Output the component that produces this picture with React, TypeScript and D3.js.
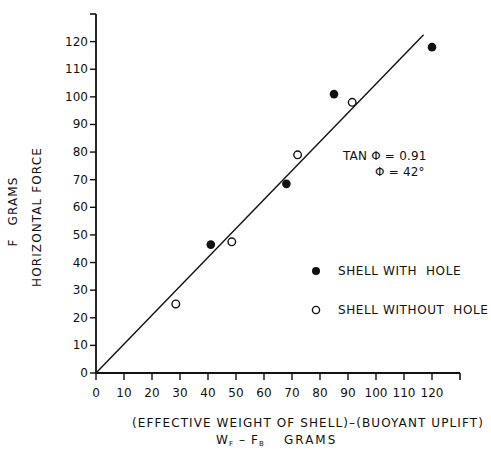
import React from 'react';
import * as d3 from 'd3';

// data (grams)
const withHoleX = [41, 68, 85, 120];
const withHoleY = [46.5, 68.5, 101, 118];
const withoutHoleX = [28.5, 48.5, 72, 91.5];
const withoutHoleY = [25, 47.5, 79, 98];
const fitX = [0, 117];
const fitY = [0, 122.5];
const xTicks = [0, 10, 20, 30, 40, 50, 60, 70, 80, 90, 100, 110, 120];
const yTicks = [0, 10, 20, 30, 40, 50, 60, 70, 80, 90, 100, 110, 120];

const W = 491;
const H = 458;

export default function App() {
  const x = d3.scaleLinear().domain([0, 130]).range([96, 460]);
  const y = d3.scaleLinear().domain([0, 130]).range([373, 14]);
  const font = "'DejaVu Sans', sans-serif";
  const ls = 1.1;

  const line = d3.line<number>()
    .x((d) => x(fitX[d]))
    .y((d) => y(fitY[d]));

  return (
    <svg width={W} height={H} style={{ position: 'absolute', left: 0, top: 0, background: '#fff' }}
      fontFamily={font} fill="#111">
      {/* axes */}
      <line x1={x(0)} y1={y(0)} x2={x(130)} y2={y(0)} stroke="#111" strokeWidth={1.8} />
      <line x1={x(0)} y1={y(0)} x2={x(0)} y2={y(130)} stroke="#111" strokeWidth={1.8} />
      <line x1={x(0) - 6} y1={y(130)} x2={x(0)} y2={y(130)} stroke="#111" strokeWidth={1.6} />
      <line x1={x(130)} y1={y(0)} x2={x(130)} y2={y(0) + 7} stroke="#111" strokeWidth={1.6} />
      {xTicks.map((t) => (
        <g key={'x' + t}>
          <line x1={x(t)} y1={y(0)} x2={x(t)} y2={y(0) + 7} stroke="#111" strokeWidth={1.4} />
          <text x={x(t)} y={y(0) + 24} fontSize={12} textAnchor="middle">{t}</text>
        </g>
      ))}
      {yTicks.map((t) => (
        <g key={'y' + t}>
          <line x1={x(0) - 6} y1={y(t)} x2={x(0)} y2={y(t)} stroke="#111" strokeWidth={1.4} />
          <text x={x(0) - 8} y={y(t) + 4} fontSize={12} textAnchor="end">{t}</text>
        </g>
      ))}

      {/* fitted line */}
      <path d={line([0, 1]) || ''} fill="none" stroke="#111" strokeWidth={1.4} />

      {withHoleX.map((v, i) => (
        <circle key={'f' + i} cx={x(v)} cy={y(withHoleY[i])} r={4.3} fill="#111" />
      ))}
      {withoutHoleX.map((v, i) => (
        <circle key={'o' + i} cx={x(v)} cy={y(withoutHoleY[i])} r={3.8} fill="#fff" stroke="#111" strokeWidth={1.4} />
      ))}

      {/* annotation */}
      <text x={343} y={160} fontSize={12} letterSpacing={0.2}>TAN Φ = 0.91</text>
      <text x={375} y={176} fontSize={12} letterSpacing={0.2}>Φ = 42°</text>

      {/* legend */}
      <circle cx={316} cy={271} r={4} fill="#111" />
      <text x={338} y={275} fontSize={12} letterSpacing={0.6}>{'SHELL WITH\u00a0\u00a0HOLE'}</text>
      <circle cx={316} cy={310} r={3.6} fill="#fff" stroke="#111" strokeWidth={1.4} />
      <text x={338} y={314} fontSize={12} letterSpacing={0.6}>{'SHELL WITHOUT\u00a0\u00a0HOLE'}</text>

      {/* axis titles */}
      <text transform="translate(17,243) rotate(-90)" fontSize={12} textAnchor="middle">F</text>
      <text transform="translate(17,201) rotate(-90)" fontSize={12} letterSpacing={ls} textAnchor="middle">GRAMS</text>
      <text transform="translate(41,217) rotate(-90)" fontSize={12} letterSpacing={ls} textAnchor="middle">HORIZONTAL FORCE</text>
      <text x={308} y={427} fontSize={12} letterSpacing={ls} textAnchor="middle">(EFFECTIVE WEIGHT OF SHELL)–(BUOYANT UPLIFT)</text>
      <text x={216} y={444} fontSize={12} letterSpacing={ls}>
        W<tspan fontSize={7} dy={2}>F</tspan><tspan dy={-2}> – F</tspan><tspan fontSize={7} dy={2}>B</tspan>
      </text>
      <text x={284} y={444} fontSize={12} letterSpacing={2}>GRAMS</text>
    </svg>
  );
}
